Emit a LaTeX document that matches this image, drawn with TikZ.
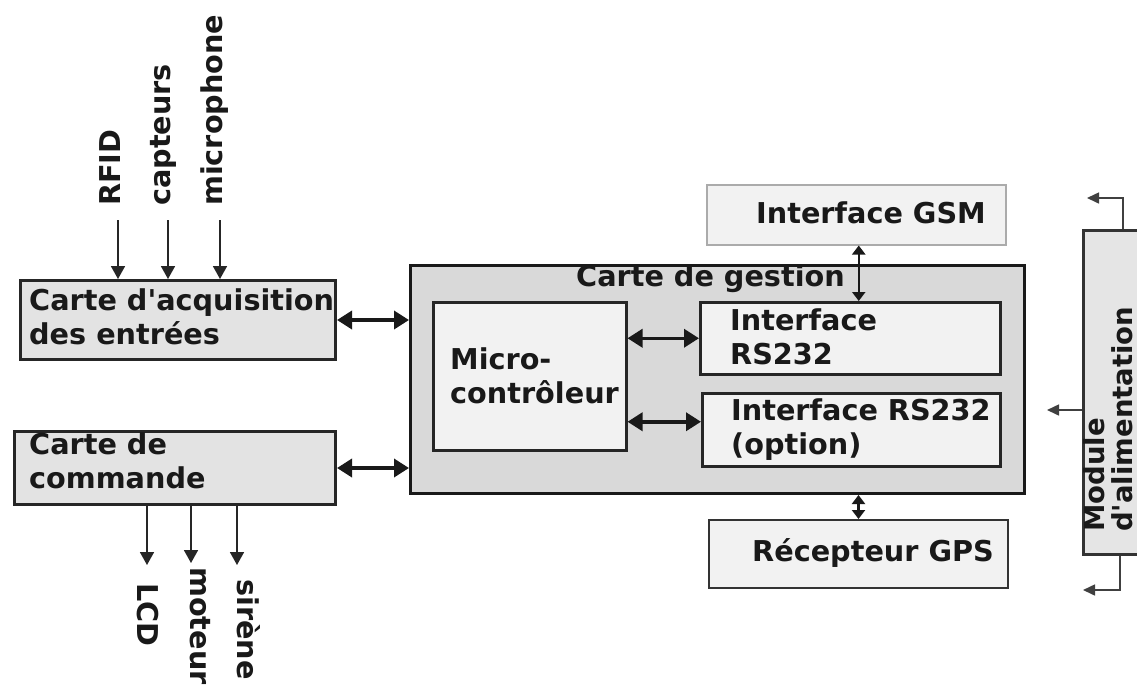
\documentclass[tikz,border=0pt]{standalone}
\usepackage{fontspec}
\newfontfamily\dv{DejaVu Sans}
\usetikzlibrary{arrows.meta}

\tikzset{
  txt/.style={font=\dv\bfseries\fontsize{28.7}{34}\selectfont, inner sep=0pt, text=black!90, align=left},
  card/.style={draw=black!85, line width=3pt, fill=black!11, inner sep=0pt, anchor=north west},
  mainbox/.style={draw=black!90, line width=3pt, fill=black!15, inner sep=0pt, anchor=north west},
  sub/.style={draw=black!85, line width=2.5pt, fill=black!5, inner sep=0pt, anchor=north west},
  extlight/.style={draw=black!33, line width=1.5pt, fill=black!5, inner sep=0pt, anchor=north west},
  extdark/.style={draw=black!80, line width=2pt, fill=black!5, inner sep=0pt, anchor=north west},
  supply/.style={draw=black!80, line width=2.5pt, fill=black!10, inner sep=0pt, anchor=north west},
  bus/.style={{Triangle[length=15pt,width=18pt]}-{Triangle[length=15pt,width=18pt]}, line width=3.5pt, draw=black!90},
  link/.style={{Triangle[length=9pt,width=13pt]}-{Triangle[length=9pt,width=13pt]}, line width=2.5pt, draw=black!90},
  sig/.style={-{Triangle[length=13pt,width=14pt]}, line width=1.7pt, draw=black!85},
  pwr/.style={-{Triangle[length=12pt,width=11pt]}, line width=1.6pt, draw=black!75},
}

\begin{document}
\begin{tikzpicture}[x=1pt,y=-1pt]
\useasboundingbox (0,0) rectangle (1137,686);
\fill[white] (0,0) rectangle (1137,686);

% --- boxes ---
\node[card, minimum width=315, minimum height=79] (acq) at (19,279) {};
\node[card, minimum width=321, minimum height=73] (cmd) at (13,430) {};
\node[mainbox, minimum width=614, minimum height=228] (gest) at (409,264) {};
\node[sub, minimum width=193, minimum height=148] (mcu) at (432,301) {};
\node[sub, minimum width=300, minimum height=72] (rsa) at (699,301) {};
\node[sub, minimum width=298, minimum height=73] (rsb) at (701,392) {};
\node[extlight, minimum width=299, minimum height=60] (gsm) at (706,184) {};
\node[extdark, minimum width=299, minimum height=68] (gps) at (708,519) {};
\begin{scope}
  \clip (0,0) rectangle (1137,686);
  \node[supply, minimum width=90, minimum height=324] (alim) at (1082,229) {};
\end{scope}

% --- box texts ---
\node[txt, anchor=north west] (acqt) at (29,288) {Carte d'acquisition\\des entrées};
\node[txt, anchor=north west] (cmdt) at (29,432) {Carte de\\commande};
\node[txt, anchor=base west] (gestt) at (576,286) {Carte de gestion};
\node[txt, anchor=north west] (mcut) at (450,347) {Micro-\\contrôleur};
\node[txt, anchor=north west] (rsat) at (730,308) {Interface\\RS232};
\node[txt, anchor=north west] (rsbt) at (731,398) {Interface RS232\\(option)};
\node[txt, anchor=base west] (gsmt) at (756,223) {Interface GSM};
\node[txt, anchor=base west] (gpst) at (752,561) {Récepteur GPS};
\node[txt, anchor=north west, rotate=90, text depth=0pt, font=\dv\bfseries\fontsize{27.5}{28.5}\selectfont] (alimt) at (1083,532) {Module\\d'alimentation};

% --- inputs of the acquisition board ---
\node[txt, anchor=mid west, rotate=90] (rfid) at (118,206) {RFID};
\node[txt, anchor=mid west, rotate=90] (capt) at (168,206) {capteurs};
\node[txt, anchor=mid west, rotate=90] (micr) at (220,206) {microphone};
\coordinate (rfidin) at (118,220);
\coordinate (captin) at (168,220);
\coordinate (micrin) at (220,220);
\draw[sig] (rfidin) -- (acq.north -| rfidin);
\draw[sig] (captin) -- (acq.north -| captin);
\draw[sig] (micrin) -- (acq.north -| micrin);

% --- outputs of the command board ---
\node[txt, anchor=mid west, rotate=-90] (lcd) at (140,583) {LCD};
\node[txt, anchor=mid west, rotate=-90] (mot) at (193,567) {moteur};
\node[txt, anchor=mid west, rotate=-90] (sir) at (240,579) {sirène};
\coordinate (lcdout) at (147,565);
\coordinate (motout) at (191,563);
\coordinate (sirout) at (237,565);
\draw[sig] (cmd.south -| lcdout) -- (lcdout);
\draw[sig] (cmd.south -| motout) -- (motout);
\draw[sig] (cmd.south -| sirout) -- (sirout);

% --- buses ---
\draw[bus] (acq.east) -- (gest.west |- acq.east);
\draw[bus] (cmd.east) -- (gest.west |- cmd.east);
\draw[bus] (mcu.east |- rsa.west) -- (rsa.west);
\coordinate (rsbin) at ([yshift=8pt]rsb.west);
\draw[bus] (mcu.east |- rsbin) -- (rsbin);
\coordinate (gsmtap) at ([xshift=2.5pt]gsm.south);
\draw[link] (gsmtap) -- (rsa.north -| gsmtap);
\draw[link] (gps.north) -- (gest.south -| gps.north);

% --- supply outputs ---
\coordinate (ptop) at (1087,198);
\coordinate (pbot) at (1083,590);
\coordinate (pmid) at (1047,410);
\draw[pwr] ([xshift=41pt]alim.north west) |- (ptop);
\draw[pwr] ([xshift=38pt]alim.south west) |- (pbot);
\draw[pwr] (alim.west |- pmid) -- (pmid);
\end{tikzpicture}
\end{document}
